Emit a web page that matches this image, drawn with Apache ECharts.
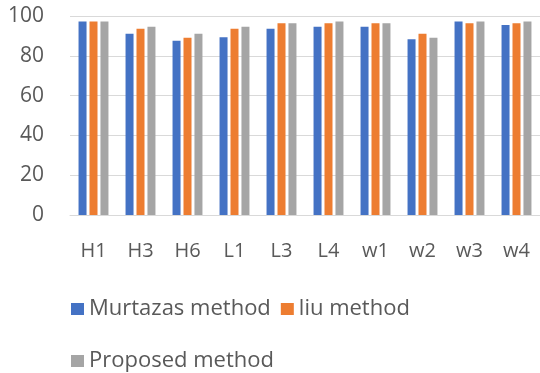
<!DOCTYPE html>
<html><head><meta charset="utf-8">
<script src="https://cdn.jsdelivr.net/npm/echarts@6/dist/echarts.min.js"></script>
<style>html,body{margin:0;padding:0;background:#fff}#c{width:540px;height:373px}</style>
</head><body><div id="c"></div>
<script>
const categories = ['H1','H3','H6','L1','L3','L4','w1','w2','w3','w4'];
const murtazas = [97.2, 91.1, 87.6, 89.3, 93.6, 94.6, 94.6, 88.3, 97.2, 95.5];
const liu      = [97.2, 93.6, 89.1, 93.6, 96.3, 96.3, 96.3, 91.1, 96.3, 96.3];
const proposed = [97.2, 94.6, 91.1, 94.6, 96.3, 97.2, 96.3, 89.1, 97.2, 97.2];
const yTicks = [0, 20, 40, 60, 80, 100];

const font = '"Open Sans", "Noto Sans", sans-serif';
const chart = echarts.init(document.getElementById('c'));
chart.setOption({
  animation: false,
  textStyle: { fontFamily: font },
  grid: { left: 70, right: 0, top: 16, bottom: 158 },
  legend: [
    { left: 66, top: 293, itemWidth: 13, itemHeight: 12, itemGap: 10, icon: 'rect',
      data: ['Murtazas method', 'liu method'],
      textStyle: { fontSize: 22, color: '#595959', fontFamily: font } },
    { left: 66, top: 345, itemWidth: 13, itemHeight: 12, icon: 'rect',
      data: ['Proposed method'],
      textStyle: { fontSize: 22, color: '#595959', fontFamily: font } }
  ],
  xAxis: {
    type: 'category', data: categories,
    axisLine: { show: true, lineStyle: { color: '#D9D9D9' } },
    axisTick: { show: false },
    axisLabel: { color: '#595959', fontSize: 20, margin: 26, fontFamily: font }
  },
  yAxis: {
    type: 'value', min: yTicks[0], max: yTicks[yTicks.length - 1], interval: 20,
    axisLine: { show: false }, axisTick: { show: false },
    splitLine: { lineStyle: { color: '#D9D9D9', width: 1 } },
    axisLabel: { color: '#595959', fontSize: 21, margin: 26, fontFamily: font }
  },
  series: [
    { name: 'Murtazas method', type: 'bar', data: murtazas, barWidth: 8, barGap: '37%',
      itemStyle: { color: '#4472C4' } },
    { name: 'liu method', type: 'bar', data: liu, barWidth: 8, barGap: '37%',
      itemStyle: { color: '#ED7D31' } },
    { name: 'Proposed method', type: 'bar', data: proposed, barWidth: 8, barGap: '37%',
      itemStyle: { color: '#A5A5A5' } }
  ]
});
</script></body></html>
